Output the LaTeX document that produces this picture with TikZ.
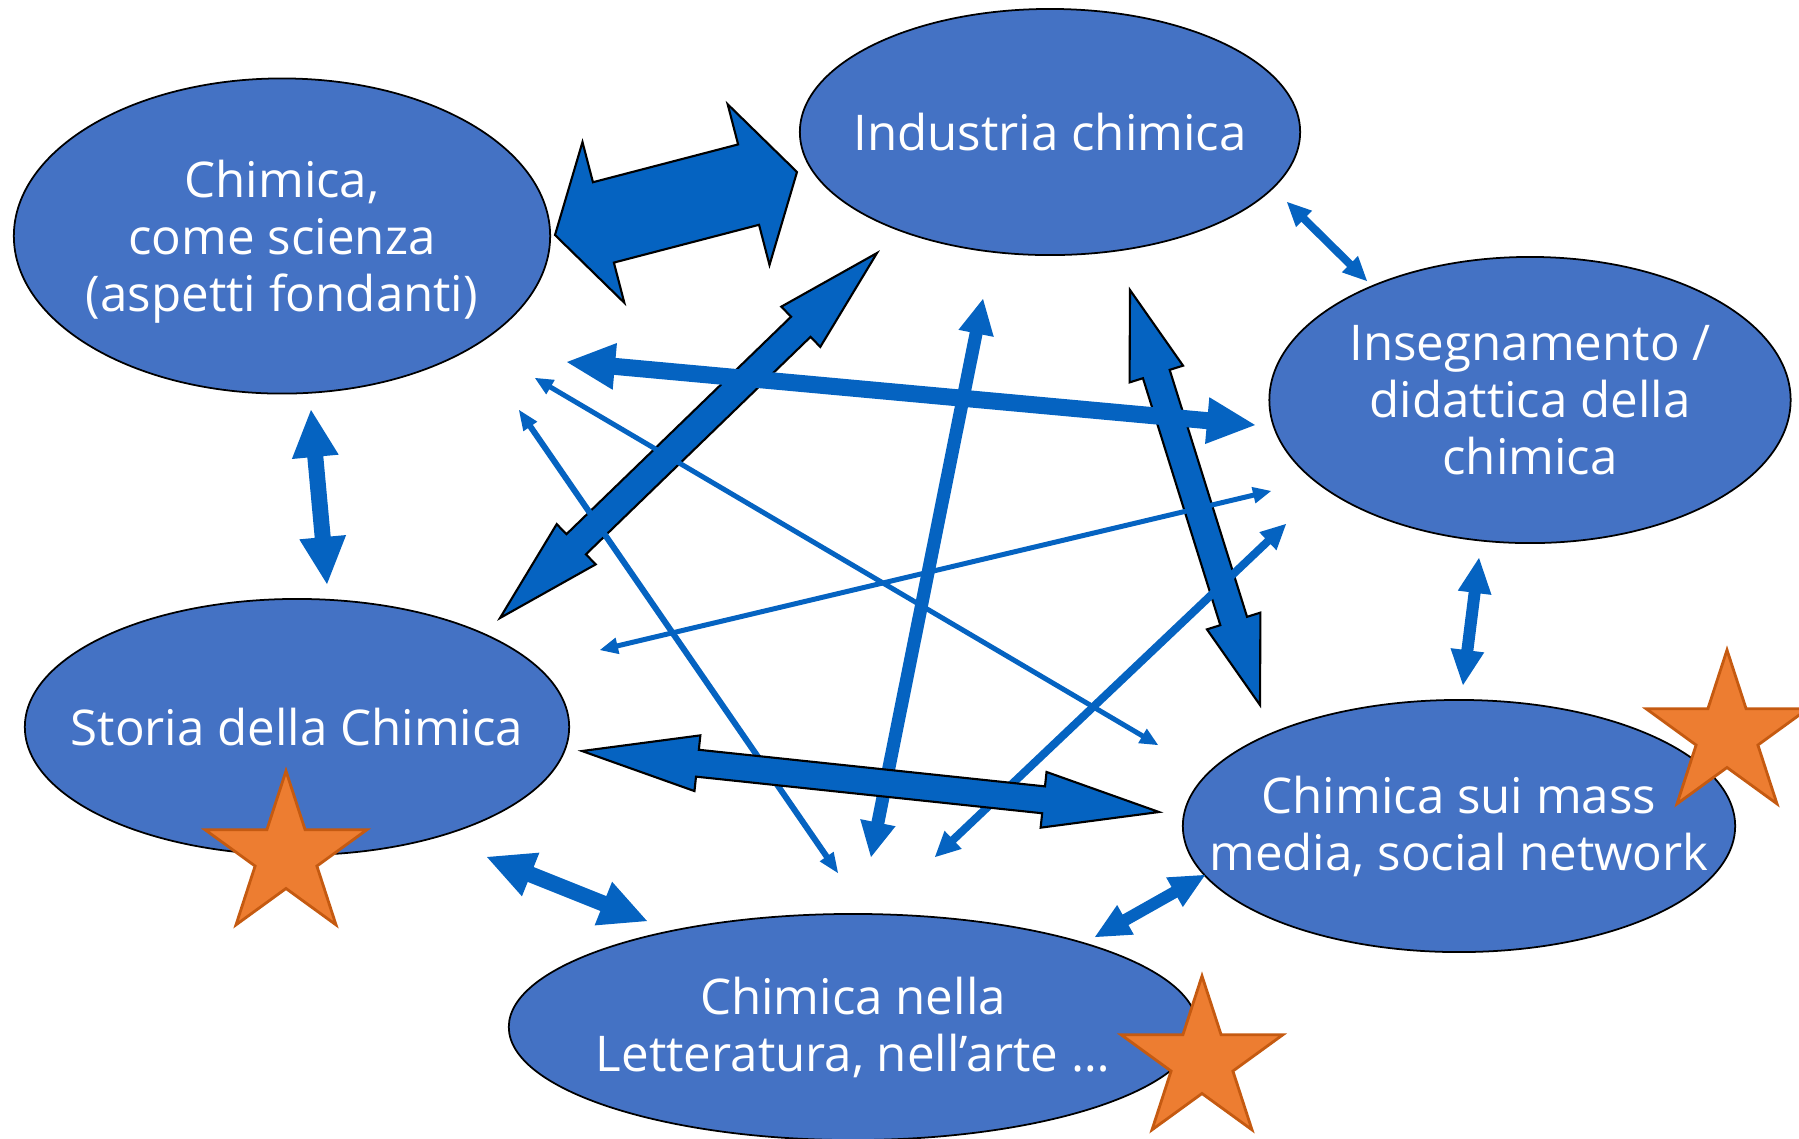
\documentclass[tikz,border=0pt]{standalone}
\usepackage{fontspec}
\setmainfont{Open Sans}
\usetikzlibrary{calc,shapes.geometric}

\definecolor{ellblue}{HTML}{4472C4}
\definecolor{arrblue}{HTML}{0563C1}
\definecolor{starfill}{HTML}{ED7D31}
\definecolor{starline}{HTML}{C55A11}

% double block arrow: [style]{from}{to}{half shaft}{half head}{head length}
\newcommand{\dblarrow}[6][]{%
	\fill [arrblue,#1] (#2)
		-- ($(#2)!#6!(#3)!#5!90:(#3)$)
		-- ($(#2)!#6!(#3)!#4!90:(#3)$)
		-- ($(#3)!#6!(#2)!#4!-90:(#2)$)
		-- ($(#3)!#6!(#2)!#5!-90:(#2)$)
		-- (#3)
		-- ($(#3)!#6!(#2)!#5!90:(#2)$)
		-- ($(#3)!#6!(#2)!#4!90:(#2)$)
		-- ($(#2)!#6!(#3)!#4!-90:(#3)$)
		-- ($(#2)!#6!(#3)!#5!-90:(#3)$)
		-- cycle;}

\begin{document}
\begin{tikzpicture}[x=0.01cm, y=0.01cm,
	bubble/.style={ellipse, draw=black, line width=0.5pt, fill=ellblue, text=white,
		align=center, inner xsep=-1cm, inner ysep=0pt, font=\fontsize{14}{16.2}\selectfont},
	stella/.style={star, star points=5, star point ratio=2.618, fill=starfill,
		draw=starline, line width=0.8pt, inner sep=0pt, minimum size=1.7cm},
	outlined/.style={draw=black, line width=0.6pt, line join=miter}]
	\useasboundingbox (0,0) rectangle (1799,-1138);

	% the six topics
	\node [bubble, minimum width=5.36cm, minimum height=3.15cm, text depth=0pt] (scienza) at (282,-236) {Chimica,\\come scienza\\(aspetti fondanti)};
	\node [bubble, minimum width=5cm, minimum height=2.46cm] (industria) at (1050,-132) {Industria chimica};
	\node [bubble, minimum width=5.21cm, minimum height=2.86cm] (didattica) at (1530,-400) {Insegnamento /\\didattica della\\chimica};
	\node [bubble, minimum width=5.44cm, minimum height=2.56cm] (storia) at (297,-727) {Storia della Chimica};
	\node [bubble, minimum width=5.52cm, minimum height=2.52cm] (media) at (1459,-826) {Chimica sui mass\\media, social network};
	\node [bubble, minimum width=6.88cm, minimum height=2.26cm] (arte) at (853,-1027) {Chimica nella\\Letteratura, nell’arte …};

	% arrow ends
	\coordinate (sci-ind) at (555,-235);
	\coordinate (ind-sci) at (797,-172);
	\coordinate (sci-sto) at (311,-410);
	\coordinate (sto-sci) at (327,-584);
	\coordinate (ind-did) at (1287,-202);
	\coordinate (did-ind) at (1367,-281);
	\coordinate (did-med) at (1479,-558);
	\coordinate (med-did) at (1463,-685);
	\coordinate (sto-art) at (487,-857);
	\coordinate (art-sto) at (647,-921);
	\coordinate (art-med) at (1095,-937);
	\coordinate (med-art) at (1205,-875);
	\coordinate (sto-ind) at (500,-618);
	\coordinate (ind-sto) at (877,-253);
	\coordinate (sci-did) at (567,-362);
	\coordinate (did-sci) at (1255,-425);
	\coordinate (ind-med) at (1130,-290);
	\coordinate (med-ind) at (1260,-705);
	\coordinate (sto-med) at (582,-751);
	\coordinate (med-sto) at (1159,-812);
	\coordinate (sci-med) at (535,-378);
	\coordinate (med-sci) at (1158,-745);
	\coordinate (sci-art) at (519,-410);
	\coordinate (art-sci) at (838,-873);
	\coordinate (sto-did) at (600,-650);
	\coordinate (did-sto) at (1271,-491);
	\coordinate (art-ind) at (871,-857);
	\coordinate (ind-art) at (983,-299);
	\coordinate (art-did) at (935,-857);
	\coordinate (did-art) at (1286,-524);

	% links
	\dblarrow[outlined]{sci-ind}{ind-sci}{0.415cm}{0.83cm}{0.5cm}
	\dblarrow{sci-sto}{sto-sci}{0.08cm}{0.235cm}{0.47cm}
	\dblarrow{ind-did}{did-ind}{0.04cm}{0.115cm}{0.24cm}
	\dblarrow{did-med}{med-did}{0.06cm}{0.17cm}{0.35cm}
	\dblarrow{sto-art}{art-sto}{0.08cm}{0.235cm}{0.47cm}
	\dblarrow{art-med}{med-art}{0.06cm}{0.17cm}{0.35cm}
	\dblarrow[outlined]{sto-ind}{ind-sto}{0.14cm}{0.28cm}{1.06cm}
	\dblarrow[outlined]{ind-med}{med-ind}{0.14cm}{0.28cm}{0.88cm}
	\dblarrow{sci-did}{did-sci}{0.085cm}{0.235cm}{0.48cm}
	\dblarrow{sci-med}{med-sci}{0.025cm}{0.085cm}{0.18cm}
	\dblarrow{sto-did}{did-sto}{0.025cm}{0.085cm}{0.18cm}
	\dblarrow{art-did}{did-art}{0.04cm}{0.125cm}{0.25cm}
	\dblarrow{sci-art}{art-sci}{0.03cm}{0.085cm}{0.2cm}
	\dblarrow{art-ind}{ind-art}{0.065cm}{0.18cm}{0.35cm}
	\dblarrow[outlined]{sto-med}{med-sto}{0.135cm}{0.28cm}{1.16cm}

	% stars
	\node [stella] (stellaStoria) at (286,-856) {};
	\node [stella] (stellaArte) at (1202,-1061) {};
	\node [stella] (stellaMedia) at (1727,-735) {};
\end{tikzpicture}
\end{document}
